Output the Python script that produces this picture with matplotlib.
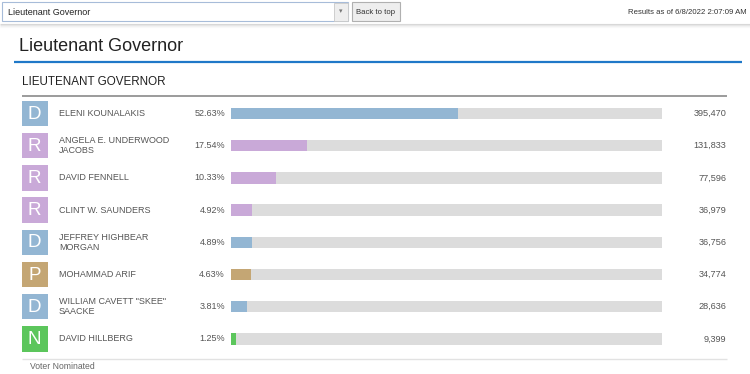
import matplotlib
matplotlib.use("Agg")
import matplotlib.pyplot as plt
from matplotlib.patches import Rectangle
from matplotlib.transforms import blended_transform_factory

plt.rcParams['font.family'] = ['Liberation Sans', 'DejaVu Sans']

# ---- data ----
names = ["ELENI KOUNALAKIS", "ANGELA E. UNDERWOOD\nJACOBS", "DAVID FENNELL",
         "CLINT W. SAUNDERS", "JEFFREY HIGHBEAR\nMORGAN", "MOHAMMAD ARIF",
         "WILLIAM CAVETT \"SKEE\"\nSAACKE", "DAVID HILLBERG"]
parties = ["D", "R", "R", "R", "D", "P", "D", "N"]
pcts = [52.63, 17.54, 10.33, 4.92, 4.89, 4.63, 3.81, 1.25]
votes = [395470, 131833, 77596, 36979, 36756, 34774, 28636, 9399]
party_colors = {"D": "#93b6d3", "R": "#c9a9d8", "P": "#c4a674", "N": "#5cc65c"}

W, H = 750, 374
fig = plt.figure(figsize=(W / 100, H / 100), dpi=100)
fig.patch.set_facecolor("white")

# overlay axes in pixel coordinates
ax0 = fig.add_axes([0, 0, 1, 1])
ax0.set_xlim(0, W)
ax0.set_ylim(H, 0)
ax0.axis("off")

# --- top toolbar ---
ax0.add_patch(Rectangle((2, 2), 346, 19, facecolor="white", edgecolor="#a7bcd9", lw=0.8))
ax0.add_patch(Rectangle((334, 2.5), 14, 18, facecolor="#eeeeee", edgecolor="#c8c8c8", lw=0.6))
ax0.text(341, 12, "\u25be", fontsize=5, color="#777777", ha="center", va="center")
ax0.text(8, 12, "Lieutenant Governor", fontsize=6.5, color="#222222", va="center")
ax0.add_patch(Rectangle((352, 2), 48, 19, facecolor="#eeeeee", edgecolor="#b0b0b0", lw=0.8))
ax0.text(376, 12.3, "Back to top", fontsize=5.6, color="#333333", va="center", ha="center")
ax0.text(747, 12, "Results as of 6/8/2022 2:07:09 AM", fontsize=5.6, color="#333333",
         va="center", ha="right")
# header shadow
for k, c in enumerate(["#d8d8d8", "#e6e6e6", "#f1f1f1", "#f8f8f8"]):
    ax0.plot([0, W], [23.5 + k, 23.5 + k], color=c, lw=0.8, solid_capstyle="butt")

# --- titles ---
ax0.text(19, 46.5, "Lieutenant Governor", fontsize=13, color="#222222", va="center")
ax0.plot([14, 742], [62, 62], color="#1f78c8", lw=1.6, solid_capstyle="butt")
ax0.text(22, 82, "LIEUTENANT GOVERNOR", fontsize=8.4, color="#222222", va="center")
ax0.plot([22, 727], [95.5, 95.5], color="#8a8a8a", lw=1.2, solid_capstyle="butt")

# --- rows axes ---
y0, step = 113.5, 32.2
n = len(names)
top_px = y0 - step / 2
bot_px = y0 + (n - 0.5) * step
ax = fig.add_axes([0, 1 - bot_px / H, 1, (bot_px - top_px) / H])
x0px, x100px = 231, 662
scale = (x100px - x0px) / 100.0
ax.set_xlim(-x0px / scale, (W - x0px) / scale)
ax.set_ylim(n - 0.5, -0.5)
ax.axis("off")
ax.patch.set_alpha(0)

rows = list(range(n))
bar_h = 11.5 / step
ax.barh(rows, [100] * n, left=0, height=bar_h, color="#dcdcdc", edgecolor="none")
ax.barh(rows, pcts, left=0, height=bar_h, color=[party_colors[p] for p in parties],
        edgecolor="none")

tr = blended_transform_factory(ax0.transData, ax.transData)
box = 25.5 / step
for i, (nm, p, pc, v) in enumerate(zip(names, parties, pcts, votes)):
    ax.add_patch(Rectangle((22, i - box / 2), 25.5, box, transform=tr,
                           facecolor=party_colors[p], edgecolor="none"))
    ax.text(34.7, i + 0.02, p, transform=tr, fontsize=13.5, color="white",
            ha="center", va="center")
    ax.text(59, i, nm, transform=tr, fontsize=6.5, color="#555555", va="center",
            linespacing=1.2)
    ax.text(225, i, f"{pc:.2f}%", transform=tr, fontsize=6.5, color="#555555",
            va="center", ha="right")
    ax.text(726.5, i, f"{v:,}", transform=tr, fontsize=6.6, color="#555555",
            va="center", ha="right")

# --- footer ---
ax0.plot([22, 727], [358.5, 358.5], color="#e2e2e2", lw=1.0, solid_capstyle="butt")
ax0.text(30, 366.5, "Voter Nominated", fontsize=6.2, color="#666666", va="center")

fig.savefig("out.png", dpi=100, facecolor="white")
